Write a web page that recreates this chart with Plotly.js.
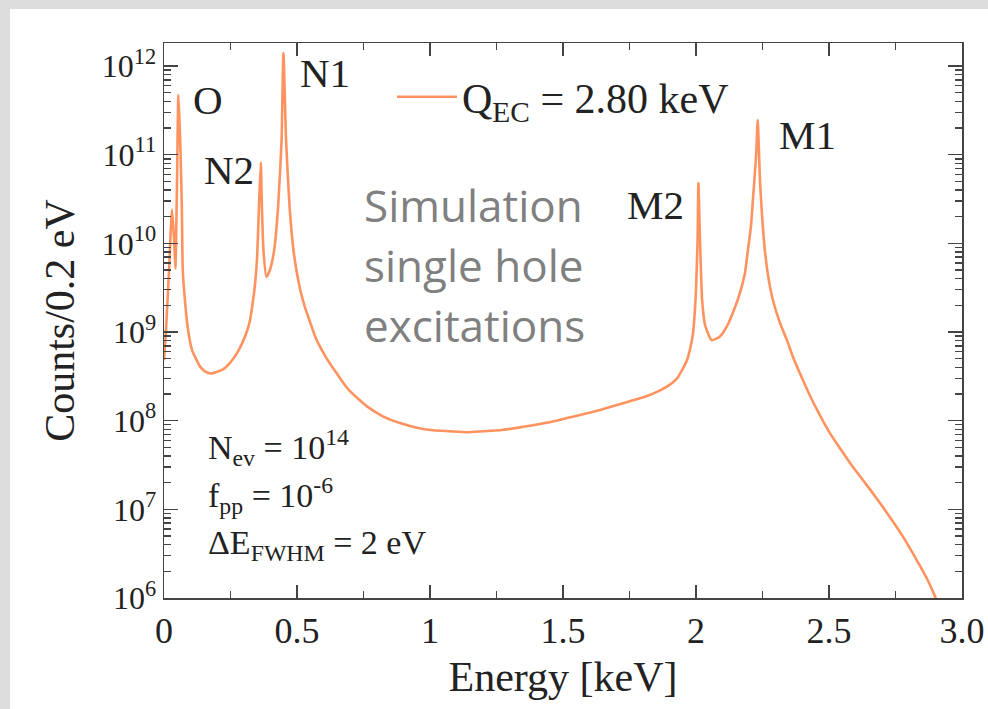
<!DOCTYPE html>
<html><head><meta charset="utf-8">
<script src="https://cdn.plot.ly/plotly-3.0.1.min.js"></script>
<style>html,body{margin:0;padding:0;background:#dddddd}#chart{width:988px;height:709px}</style>
</head><body><div id="chart"></div>
<script>
// Energy [keV] and Counts/0.2 eV
const energy = [0, 0.0075, 0.019, 0.030, 0.038, 0.043, 0.049, 0.054, 0.058, 0.062, 0.067, 0.071, 0.087, 0.105, 0.120, 0.135, 0.154, 0.177, 0.222, 0.248, 0.274, 0.293, 0.312, 0.323, 0.335, 0.342, 0.350, 0.357, 0.364, 0.368, 0.374, 0.385, 0.398, 0.414, 0.429, 0.442, 0.449, 0.459, 0.472, 0.489, 0.511, 0.530, 0.549, 0.571, 0.598, 0.624, 0.650, 0.673, 0.699, 0.763, 0.823, 0.887, 0.947, 1.011, 1.075, 1.139, 1.200, 1.263, 1.327, 1.387, 1.451, 1.515, 1.575, 1.639, 1.703, 1.763, 1.816, 1.865, 1.898, 1.929, 1.947, 1.966, 1.977, 1.989, 1.996, 2.000, 2.006, 2.009, 2.015, 2.023, 2.034, 2.059, 2.090, 2.117, 2.139, 2.165, 2.184, 2.195, 2.207, 2.214, 2.226, 2.232, 2.241, 2.259, 2.274, 2.289, 2.316, 2.342, 2.365, 2.391, 2.429, 2.466, 2.504, 2.545, 2.590, 2.635, 2.680, 2.718, 2.756, 2.786, 2.816, 2.842, 2.868, 2.898, 2.910];
const counts = [4.8e8, 1.05e9, 5.0e9, 2.4e10, 1.1e10, 5.2e9, 5.1e10, 4.7e11, 2.5e11, 1.1e11, 2.6e10, 4.6e9, 1.26e9, 6.3e8, 5.0e8, 4.1e8, 3.6e8, 3.4e8, 3.8e8, 4.5e8, 5.75e8, 7.4e8, 1.02e9, 1.35e9, 2.3e9, 3.4e9, 6.9e9, 2.6e10, 8.2e10, 2.6e10, 8.3e9, 4.2e9, 5.0e9, 8.3e9, 2.6e10, 1.45e11, 1.4e12, 1.45e11, 2.6e10, 7.4e9, 3.1e9, 1.9e9, 1.3e9, 8.5e8, 5.9e8, 4.4e8, 3.4e8, 2.7e8, 2.15e8, 1.45e8, 1.12e8, 9.4e7, 8.4e7, 7.8e7, 7.6e7, 7.4e7, 7.6e7, 7.8e7, 8.3e7, 8.9e7, 9.6e7, 1.07e8, 1.18e8, 1.32e8, 1.5e8, 1.7e8, 1.9e8, 2.2e8, 2.5e8, 3.0e8, 3.7e8, 4.8e8, 6.3e8, 9.7e8, 1.8e9, 3.0e9, 1.1e10, 4.8e10, 1.1e10, 2.3e9, 1.2e9, 8.1e8, 8.9e8, 1.17e9, 1.66e9, 2.75e9, 4.6e9, 8.3e9, 1.6e10, 3.1e10, 9.8e10, 2.46e11, 4.8e10, 8.3e9, 3.8e9, 2.3e9, 1.26e9, 8.1e8, 5.2e8, 3.4e8, 1.9e8, 1.15e8, 7.2e7, 4.7e7, 3.0e7, 2.0e7, 1.32e7, 9.1e6, 6.2e6, 4.5e6, 3.16e6, 2.3e6, 1.66e6, 1.05e6, 8.5e5];

const xTickVals = [0, 0.5, 1, 1.5, 2, 2.5, 3];
const xTickText = ["0", "0.5", "1", "1.5", "2", "2.5", "3.0"];
const yTickVals = [1e6, 1e7, 1e8, 1e9, 1e10, 1e11, 1e12];
const yTickText = ["10<sup>6</sup>", "10<sup>7</sup>", "10<sup>8</sup>", "10<sup>9</sup>", "10<sup>10</sup>", "10<sup>11</sup>", "10<sup>12</sup>"];
const peakLabels = ["O", "N1", "N2", "M2", "M1"];
const simText = ["Simulation", "single hole", "excitations"];
const paramText = ["N<sub>ev</sub> = 10<sup>14</sup>", "f<sub>pp</sub> = 10<sup>-6</sup>", "ΔE<sub>FWHM</sub> = 2 eV"];
const seriesName = "Q<sub>EC</sub> = 2.80 keV";

const yMinor = [];
for (let d = 6; d <= 12; d++) for (let m = 2; m <= 9; m++) yMinor.push(m * Math.pow(10, d));

// plot area in pixels
const L = 164, R = 962, T = 43, B = 598, W = 988, H = 709;
const px = v => (v - L) / (R - L);
const py = v => (B - v) / (B - T);

const serif = "Liberation Serif, Times New Roman, serif";
const ink = "#222222";

const annotations = [];
const peakPos = [[208, 100], [325, 73], [229, 170], [655, 205], [807, 135]];
peakLabels.forEach((t, i) => annotations.push({
  text: t, xref: "paper", yref: "paper", x: px(peakPos[i][0]), y: py(peakPos[i][1]),
  xanchor: "center", yanchor: "middle", showarrow: false,
  font: {family: serif, size: 41, color: ink}
}));
const simY = [205, 265, 325];
simText.forEach((t, i) => annotations.push({
  text: t, xref: "paper", yref: "paper", x: px(362), y: py(simY[i]),
  xanchor: "left", yanchor: "middle", showarrow: false,
  font: {family: "Open Sans, sans-serif", size: 44, color: "#808080"}
}));
const parY = [447, 495, 545];
paramText.forEach((t, i) => annotations.push({
  text: t, xref: "paper", yref: "paper", x: px(206), y: py(parY[i]),
  xanchor: "left", yanchor: "middle", showarrow: false,
  font: {family: serif, size: 34, color: ink}
}));

const trace = {
  x: energy, y: counts, type: "scatter", mode: "lines", name: seriesName,
  line: {color: "#ff9360", width: 2.6, shape: "spline", smoothing: 0.5}
};

const axisCommon = {
  showline: true, linecolor: "#444444", linewidth: 1.5, mirror: "allticks",
  ticks: "inside", tickcolor: "#444444", tickwidth: 1.5,
  showgrid: false, zeroline: false
};

const layout = {
  width: W, height: H,
  margin: {l: L, r: W - R, t: T, b: H - B, pad: 0},
  paper_bgcolor: "#dddddd", plot_bgcolor: "#ffffff",
  showlegend: true,
  legend: {x: px(392), y: py(97), xanchor: "left", yanchor: "middle",
    bgcolor: "rgba(0,0,0,0)", font: {family: serif, size: 42, color: ink}, itemwidth: 60},
  xaxis: Object.assign({}, axisCommon, {
    range: [0, 3], tickmode: "array", tickvals: xTickVals, ticktext: xTickText, ticklen: 13,
    minor: {tickmode: "linear", tick0: 0, dtick: 0.25, ticks: "inside", ticklen: 7, tickcolor: "#444444", tickwidth: 1.5, showgrid: false},
    tickfont: {family: serif, size: 36, color: ink},
    title: {text: "Energy [keV]", font: {family: serif, size: 42, color: ink}, standoff: 12}
  }),
  yaxis: Object.assign({}, axisCommon, {
    type: "log", range: [6, 12.26], tickmode: "array", tickvals: yTickVals, ticktext: yTickText, ticklen: 14,
    minor: {tickmode: "array", tickvals: yMinor, ticks: "inside", ticklen: 7, tickcolor: "#444444", tickwidth: 1.5, showgrid: false},
    tickfont: {family: serif, size: 32, color: ink},
    title: {text: "Counts/0.2 eV", font: {family: serif, size: 42, color: ink}, standoff: 14}
  }),
  shapes: [{type: "rect", xref: "paper", yref: "paper", layer: "below",
    x0: px(10), x1: px(1000), y0: py(720), y1: py(9),
    fillcolor: "#ffffff", line: {width: 0}}],
  annotations: annotations
};

Plotly.newPlot("chart", [trace], layout, {displayModeBar: false, staticPlot: true});
</script>
</body></html>
